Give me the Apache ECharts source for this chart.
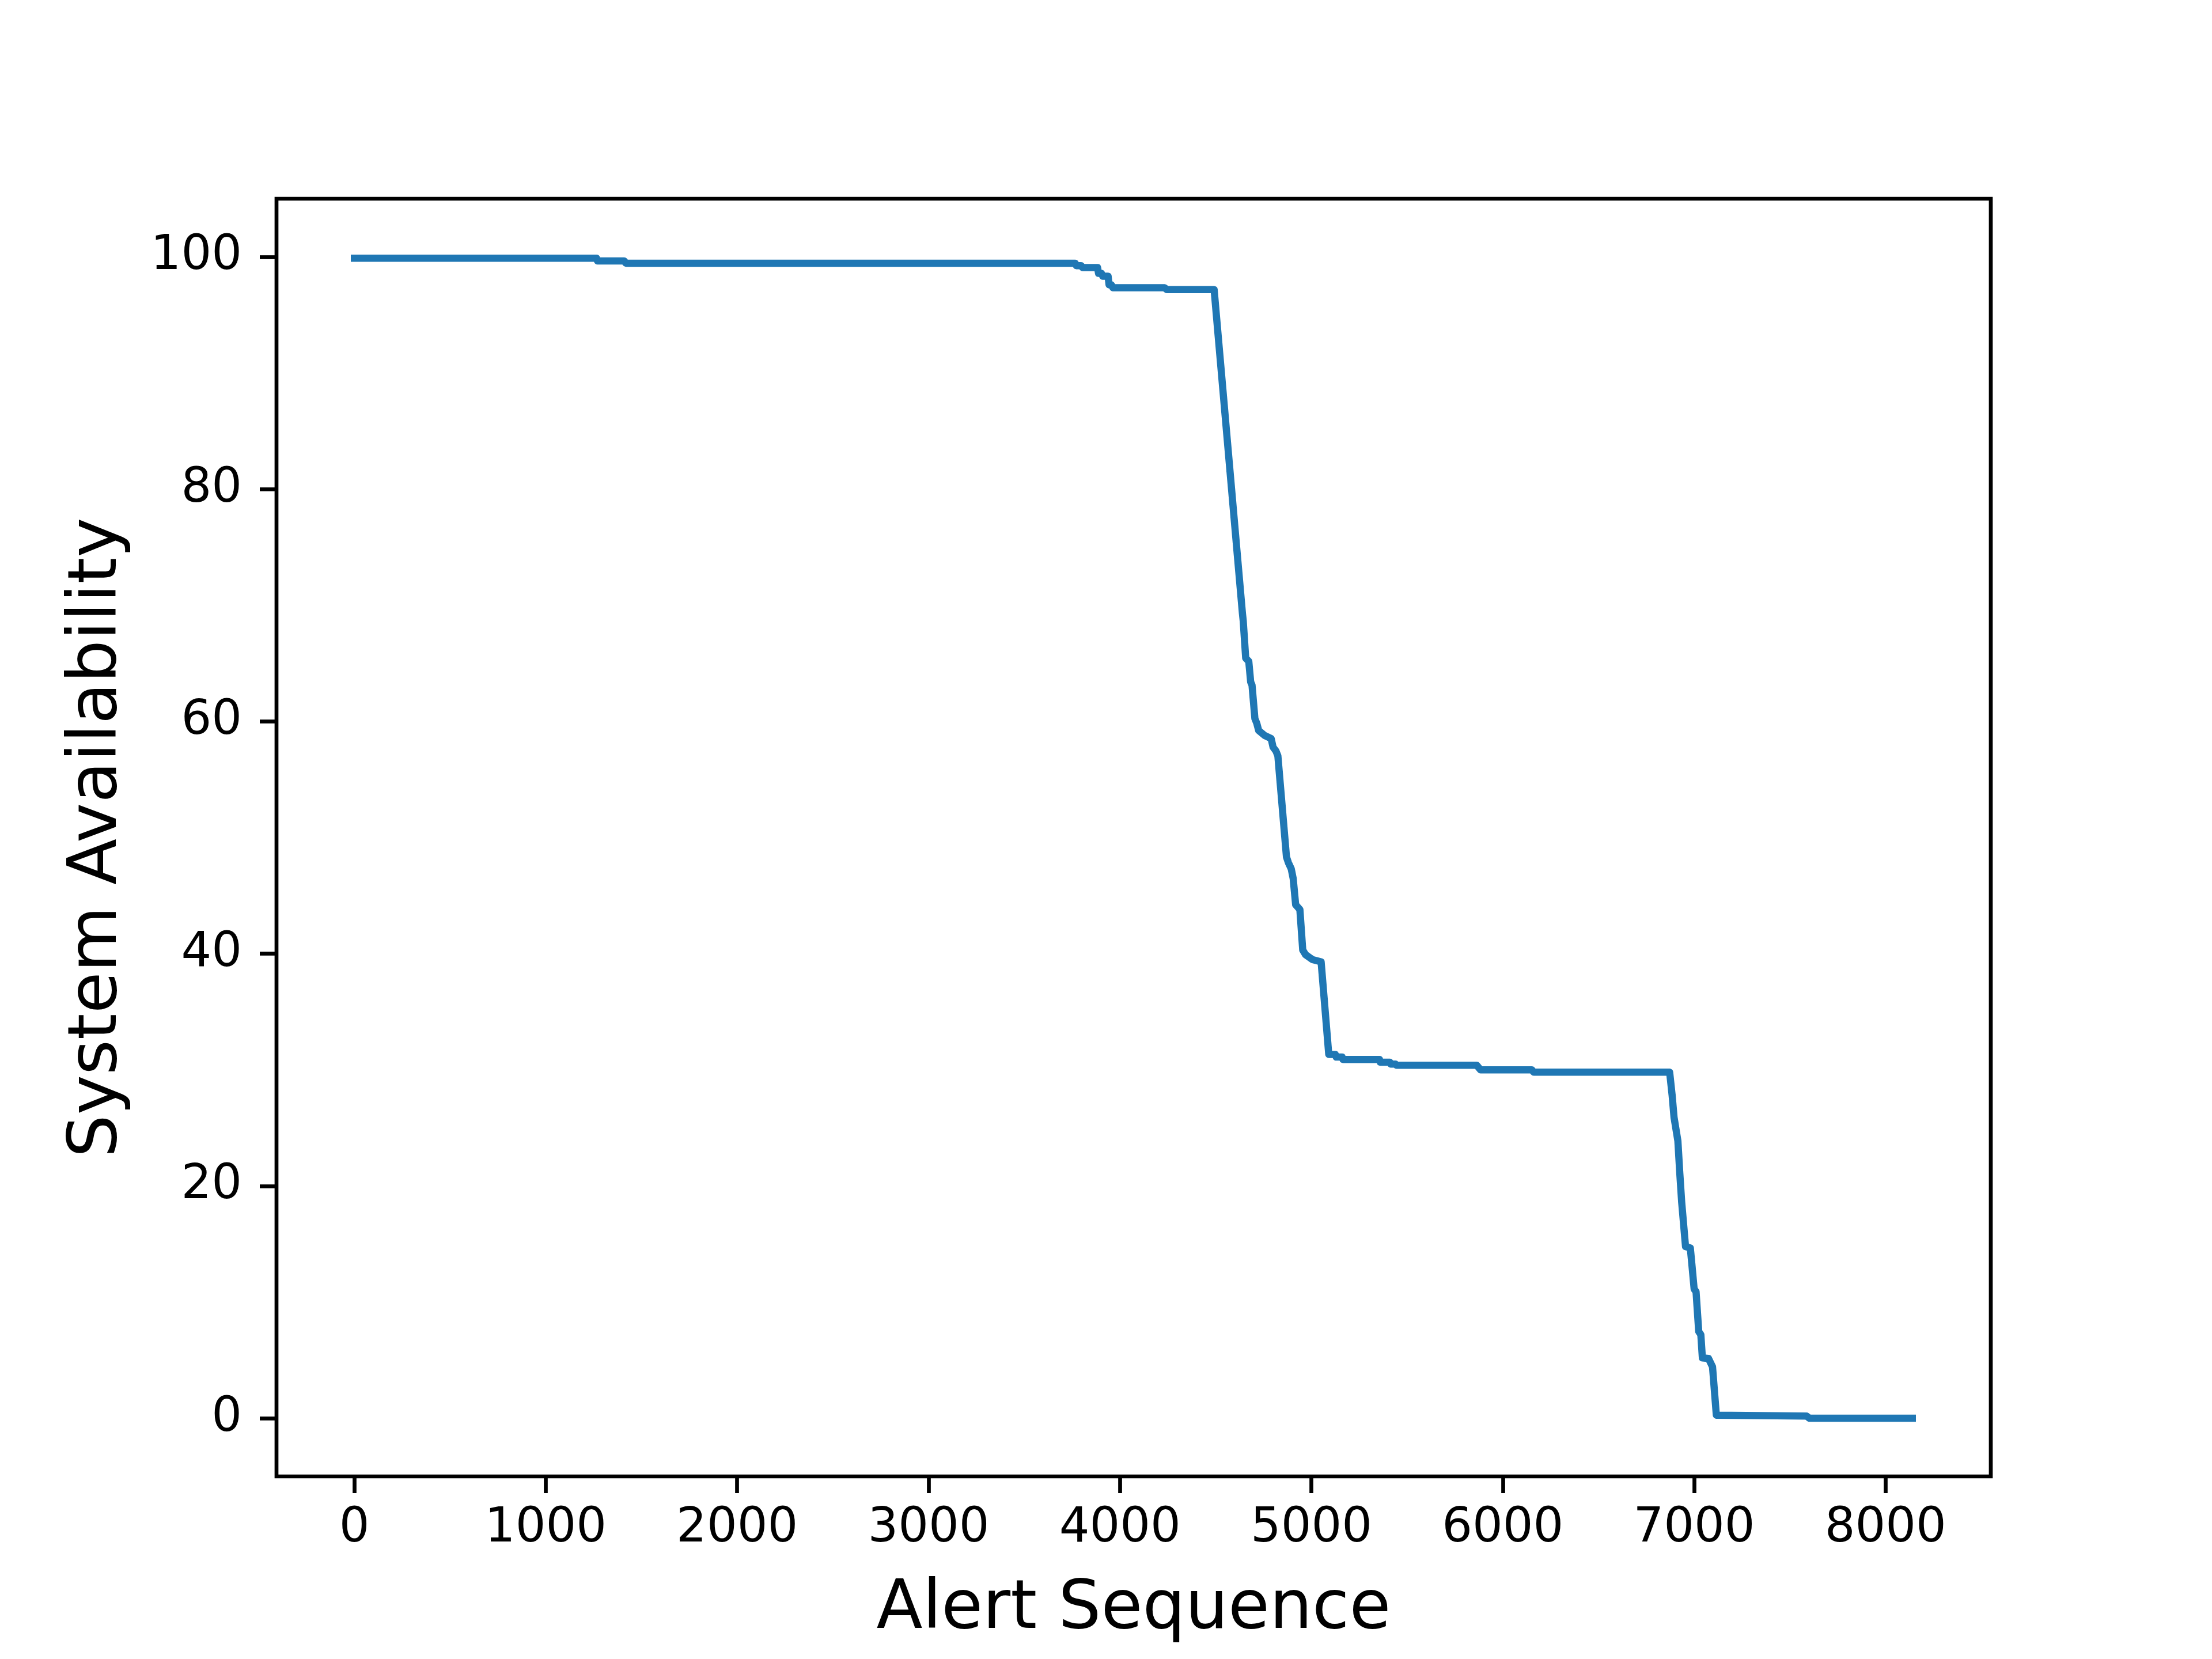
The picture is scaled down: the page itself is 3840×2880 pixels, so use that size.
<!DOCTYPE html>
<html>
<head>
<meta charset="utf-8">
<script src="https://cdn.jsdelivr.net/npm/echarts@6/dist/echarts.min.js"></script>
<style>html,body{margin:0;padding:0;background:#fff}#c{width:3840px;height:2880px}</style>
</head>
<body>
<div id="c"></div>
<script>
// Alert sequence index (x) and system availability (y)
const alertSeq = [0, 1265, 1270, 1410, 1418, 3766, 3772, 3797, 3805, 3883, 3888, 3903, 3910, 3938, 3943, 3955, 3963, 4233, 4244, 4492,
  4640, 4644, 4657, 4673, 4683, 4690, 4705, 4715, 4725, 4755, 4790, 4800, 4815, 4825, 4870, 4880, 4895, 4905, 4918, 4940, 4955, 4970, 5005, 5051,
  5091, 5125, 5130, 5161, 5165, 5356, 5360, 5410, 5415, 5440, 5445, 5864, 5884, 6152, 6162, 6872,
  6875, 6885, 6895, 6915, 6925, 6935, 6955, 6980, 6988, 7000, 7010, 7024, 7035, 7043, 7075, 7096, 7116, 7587, 7602, 8140];
const availability = [99.88, 99.88, 99.65, 99.65, 99.45, 99.45, 99.24, 99.24, 99.07, 99.07, 98.58, 98.58, 98.33, 98.33, 97.59, 97.59, 97.34, 97.34, 97.18, 97.18,
  69.28, 68.66, 65.45, 65.17, 63.40, 63.12, 60.24, 59.83, 59.21, 58.80, 58.52, 57.78, 57.45, 57.04, 48.33, 47.84, 47.30, 46.48, 44.22, 43.81, 40.32, 39.91, 39.50, 39.30,
  31.33, 31.33, 31.10, 31.10, 30.90, 30.90, 30.66, 30.66, 30.50, 30.50, 30.40, 30.40, 30.00, 30.00, 29.80, 29.80,
  29.80, 27.81, 25.91, 23.89, 21.11, 18.59, 14.79, 14.67, 13.28, 11.13, 10.90, 7.47, 7.20, 5.20, 5.15, 4.44, 0.27, 0.20, 0.01, 0.01];
const xTicks = [0, 1000, 2000, 3000, 4000, 5000, 6000, 7000, 8000];
const yTicks = [0, 20, 40, 60, 80, 100];
const xTitle = 'Alert Sequence';
const yTitle = 'System Availability';

const seriesData = alertSeq.map((x, i) => [x, availability[i]]);
const chart = echarts.init(document.getElementById('c'), null, {renderer: 'canvas'});
const font = 'DejaVu Sans';
chart.setOption({
  animation: false,
  backgroundColor: '#ffffff',
  grid: {left: 480, right: 384, top: 345, bottom: 317, show: true, borderColor: '#000', borderWidth: 6.7, backgroundColor: 'transparent'},
  xAxis: {
    type: 'value', min: -407, max: 8550,
    name: xTitle, nameLocation: 'middle', nameGap: 174,
    nameTextStyle: {fontFamily: font, fontSize: 117, color: '#000'},
    axisLine: {show: false, onZero: false},
    axisTick: {show: true, inside: false, length: 29, lineStyle: {color: '#000', width: 6.7}, customValues: xTicks},
    axisLabel: {fontFamily: font, fontSize: 83, color: '#000', margin: 50, customValues: xTicks, formatter: v => String(v)},
    splitLine: {show: false}
  },
  yAxis: {
    type: 'value', min: -5, max: 105,
    name: yTitle, nameLocation: 'middle', nameGap: 251,
    nameTextStyle: {fontFamily: font, fontSize: 117, color: '#000'},
    axisLine: {show: false, onZero: false},
    axisTick: {show: true, inside: false, length: 29, lineStyle: {color: '#000', width: 6.7}, customValues: yTicks},
    axisLabel: {fontFamily: font, fontSize: 83, color: '#000', margin: 60, customValues: yTicks, formatter: v => String(v)},
    splitLine: {show: false}
  },
  series: [{
    type: 'line', data: seriesData, showSymbol: false, symbol: 'none',
    lineStyle: {color: '#1f77b4', width: 12.5, cap: 'square', join: 'round'},
    clip: true
  }]
});
</script>
</body>
</html>
